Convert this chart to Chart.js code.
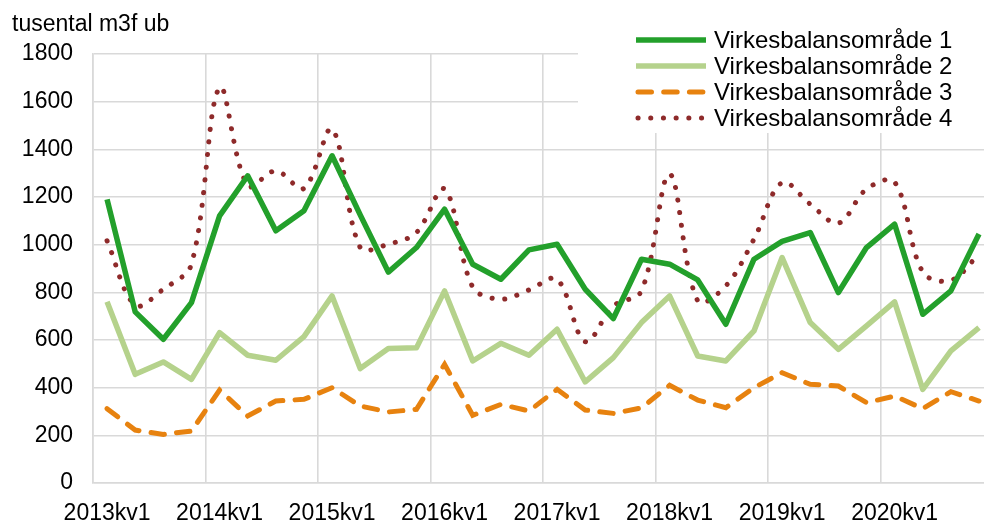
<!DOCTYPE html>
<html>
<head>
<meta charset="utf-8">
<script src="https://cdn.jsdelivr.net/npm/chart.js@4.4.1/dist/chart.umd.min.js"></script>
<style>
  html, body { margin: 0; padding: 0; overflow: hidden; background: #fff; }
  #wrap { width: 996px; height: 521px; position: relative; }
</style>
</head>
<body>
<div id="wrap"><canvas id="myChart"></canvas></div>
<script>
// kvartal 2013kv1 - 2020kv4
var years = ['2013', '2014', '2015', '2016', '2017', '2018', '2019', '2020'];
var quarters = ['kv1', 'kv2', 'kv3', 'kv4'];
var labels_ = [];
years.forEach(function (y) { quarters.forEach(function (q) { labels_.push(y + q); }); });

var unitTitle = 'tusental m3f ub';
var seriesNames = ['Virkesbalansområde 1', 'Virkesbalansområde 2', 'Virkesbalansområde 3', 'Virkesbalansområde 4'];

var vbo1 = [1190, 718, 603, 757, 1121, 1289, 1058, 1142, 1373, 1125, 885, 988, 1149, 918, 855, 978,
            1002, 813, 690, 939, 918, 852, 666, 939, 1014, 1051, 799, 988, 1086, 708, 806, 1045];
var vbo2 = [760, 456, 508, 435, 631, 536, 515, 614, 785, 480, 564, 567, 806, 512, 586, 536,
            645, 424, 526, 673, 785, 533, 512, 638, 946, 673, 561, 659, 760, 393, 554, 652];
var vbo3 = [312, 222, 204, 218, 390, 281, 344, 351, 400, 323, 298, 309, 498, 284, 330, 302,
            393, 306, 292, 315, 410, 348, 316, 400, 463, 414, 407, 337, 365, 312, 383, 344];
var vbo4 = [1016, 746, 813, 918, 1660, 1247, 1310, 1236, 1485, 988, 1002, 1051, 1233, 822, 771, 810,
            855, 593, 743, 806, 1296, 764, 827, 1023, 1261, 1170, 1090, 1233, 1263, 885, 850, 960];

var yMin = 0, yMax = 1800, yStep = 200;

const FONT = '"Liberation Sans", Arial, sans-serif';
const GRID = '#d9d9d9';

// legend drawn on a white box over the top right of the plot
const boxLegend = {
    id: 'boxLegend',
    afterDatasetsDraw(chart) {
        const ctx = chart.ctx;
        ctx.save();
        ctx.fillStyle = '#fff';
        ctx.fillRect(578, 0, chart.width - 578, 133);
        const rows = [40, 66, 92, 118];
        chart.data.datasets.forEach(function (ds, i) {
            ctx.save();
            ctx.strokeStyle = ds.borderColor;
            ctx.lineWidth = ds.borderWidth;
            ctx.lineCap = ds.borderCapStyle || 'butt';
            ctx.setLineDash(ds.borderDash || []);
            ctx.beginPath();
            ctx.moveTo(ds.borderDash && ds.borderDash.length ? 638 : 636, rows[i]);
            ctx.lineTo(706, rows[i]);
            ctx.stroke();
            ctx.restore();
            ctx.fillStyle = '#000';
            ctx.font = '24px ' + FONT;
            ctx.textBaseline = 'middle';
            ctx.textAlign = 'left';
            ctx.fillText(ds.label, 714, rows[i] + 1);
        });
        ctx.font = '23px ' + FONT;
        ctx.textBaseline = 'middle';
        ctx.fillText(unitTitle, 12, 25);
        ctx.restore();
    }
};

const ctx_ = document.getElementById('myChart').getContext('2d');

var myChart = new Chart(ctx_, {
    type: 'line',
    data: {
        labels: labels_,
        datasets: [{
            label: seriesNames[0],
            data: vbo1,
            borderColor: '#23a02b',
            borderWidth: 5.5,
            borderJoinStyle: 'round',
            tension: 0
        }, {
            label: seriesNames[1],
            data: vbo2,
            borderColor: '#b5d28c',
            borderWidth: 5.5,
            borderJoinStyle: 'round',
            tension: 0
        }, {
            label: seriesNames[2],
            data: vbo3,
            borderColor: '#e7820f',
            borderWidth: 5,
            borderDash: [13.5, 12.2],
            borderCapStyle: 'round',
            tension: 0
        }, {
            label: seriesNames[3],
            data: vbo4,
            borderColor: '#8e2a2a',
            borderWidth: 5,
            borderDash: [0.1, 12.6],
            borderCapStyle: 'round',
            tension: 0.35
        }]
    },
    options: {
        responsive: true,
        maintainAspectRatio: false,
        animation: false,
        devicePixelRatio: 1,
        layout: { padding: { top: 54, left: 0, right: 0, bottom: 0 } },
        elements: { point: { radius: 0 } },
        plugins: {
            legend: { display: false },
            tooltip: { enabled: false }
        },
        scales: {
            x: {
                type: 'category',
                offset: true,
                grid: {
                    offset: true,
                    lineWidth: 1.6,
                    drawTicks: false,
                    color: function (c) { return c.index % 4 === 0 ? GRID : 'rgba(0,0,0,0)'; }
                },
                border: { color: GRID, width: 1.6 },
                ticks: {
                    autoSkip: false,
                    maxRotation: 0,
                    padding: 17,
                    color: '#000',
                    font: { family: FONT, size: 23 },
                    callback: function (v, i) { return i % 4 === 0 ? this.getLabelForValue(v) : ''; }
                },
                afterFit: function (s) { s.height = 38; }
            },
            y: {
                min: yMin,
                max: yMax,
                grid: { color: GRID, lineWidth: 1.6, drawTicks: false },
                border: { color: GRID, width: 1.6 },
                ticks: {
                    stepSize: yStep,
                    padding: 20,
                    color: '#000',
                    font: { family: FONT, size: 23 },
                    callback: function (v) { return String(v); }
                },
                afterFit: function (s) { s.width = 93; }
            }
        }
    },
    plugins: [boxLegend]
});
</script>
</body>
</html>
